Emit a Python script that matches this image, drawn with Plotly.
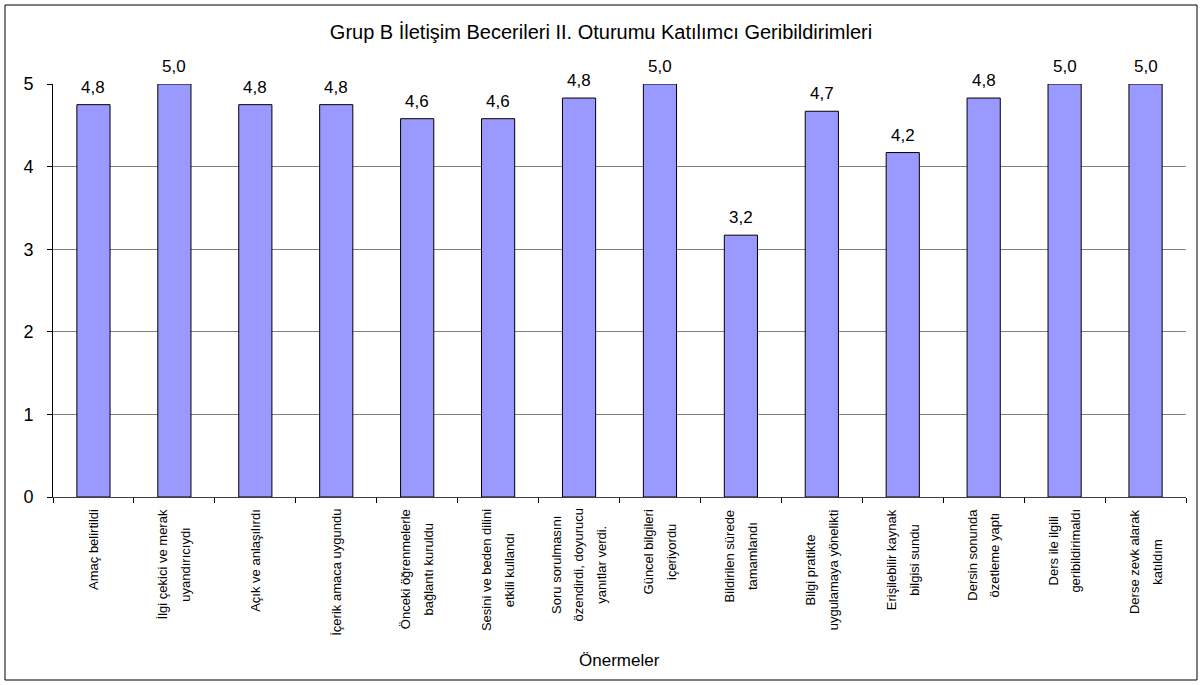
import plotly.graph_objects as go

categories = [
    "Amaç belirtildi",
    "İlgi çekici ve merak<br>uyandırıcıydı",
    "Açık ve anlaşılırdı",
    "İçerik amaca uygundu",
    "Önceki öğrenmelerle<br>bağlantı kuruldu",
    "Sesini ve beden dilini<br>etkili kullandı",
    "Soru sorulmasını<br>özendirdi, doyurucu<br>yanıtlar verdi.",
    "Güncel bilgileri<br>içeriyordu",
    "Bildirilen sürede<br>tamamlandı",
    "Bilgi pratikte<br>uygulamaya yönelikti",
    "Erişilebilir kaynak<br>bilgisi sundu",
    "Dersin sonunda<br>özetleme yaptı",
    "Ders ile ilgili<br>geribildirimaldı",
    "Derse zevk alarak<br>katıldım",
]
values = [4.75, 5.0, 4.75, 4.75, 4.58, 4.58, 4.83, 5.0, 3.17, 4.67, 4.17, 4.83, 5.0, 5.0]
y_ticks = [0, 1, 2, 3, 4, 5]

title_text = "Grup B İletişim Becerileri II. Oturumu Katılımcı Geribildirimleri"
x_title = "Önermeler"

FONT = "Liberation Sans, Arial, sans-serif"

x_keys = list(range(len(categories)))

fig = go.Figure()
fig.add_trace(go.Bar(
    x=x_keys,
    y=values,
    marker=dict(color="#9999FF", line=dict(color="#000000", width=1)),
    width=0.41,
    hoverinfo="y",
))

annotations = []
# value labels above bars
for k, v in zip(x_keys, values):
    annotations.append(dict(
        x=k, y=v, xref="x", yref="y",
        text=f"{v:.1f}".replace(".", ","),
        showarrow=False, xanchor="center", yanchor="bottom", yshift=6,
        font=dict(family=FONT, size=17, color="#000000"),
    ))
# category labels
for k, lab in zip(x_keys, categories):
    annotations.append(dict(
        x=k, y=0, xref="x", yref="paper",
        text='<span style="font-size:13px">' + lab.replace("<br>", '</span><br><span style="font-size:13px">') + "</span>",
        textangle=-90, showarrow=False,
        xanchor="center", yanchor="top", yshift=-10, align="center",
        font=dict(family=FONT, size=17.5, color="#000000"),
    ))
annotations.append(dict(
    x=0.5, y=-0.395, xref="paper", yref="paper", text=x_title, showarrow=False,
    xanchor="center", yanchor="middle",
    font=dict(family=FONT, size=17, color="#000000"),
))

fig.update_layout(
    width=1202, height=685,
    margin=dict(l=53, r=16, t=84, b=188),
    paper_bgcolor="#FFFFFF",
    plot_bgcolor="#FFFFFF",
    separators=",.",
    showlegend=False,
    title=dict(text=title_text, x=0.5, xanchor="center", y=1 - 32 / 685, yanchor="middle",
               font=dict(family=FONT, size=20, color="#000000")),
    xaxis=dict(
        type="category", tickmode="array", tickvals=x_keys, showticklabels=False,
        tickson="boundaries", ticks="outside", ticklen=5, tickcolor="#000000",
        showline=True, linecolor="#404040", linewidth=1, showgrid=False,
        range=[-0.5, len(categories) - 0.5],
    ),
    yaxis=dict(
        range=[0, 5], tickmode="array", tickvals=y_ticks,
        ticks="outside", ticklen=5, tickcolor="#000000",
        showline=True, linecolor="#000000", linewidth=1,
        showgrid=True, gridcolor="#808080", gridwidth=1, zeroline=False,
        tickfont=dict(family=FONT, size=18, color="#000000"),
        ticklabelstandoff=10,
    ),
    annotations=annotations,
    shapes=[
        dict(type="rect", xref="paper", yref="paper",
             x0=(5 - 53) / 1133, x1=(1197 - 53) / 1133,
             y0=(497 - 680) / 413, y1=(497 - 5) / 413,
             line=dict(color="#000000", width=1), fillcolor="rgba(0,0,0,0)", layer="below"),
    ],
)

fig.write_html("out.html", config={"displayModeBar": False},
               post_script="document.body.style.margin='0';document.body.style.overflow='hidden';")
